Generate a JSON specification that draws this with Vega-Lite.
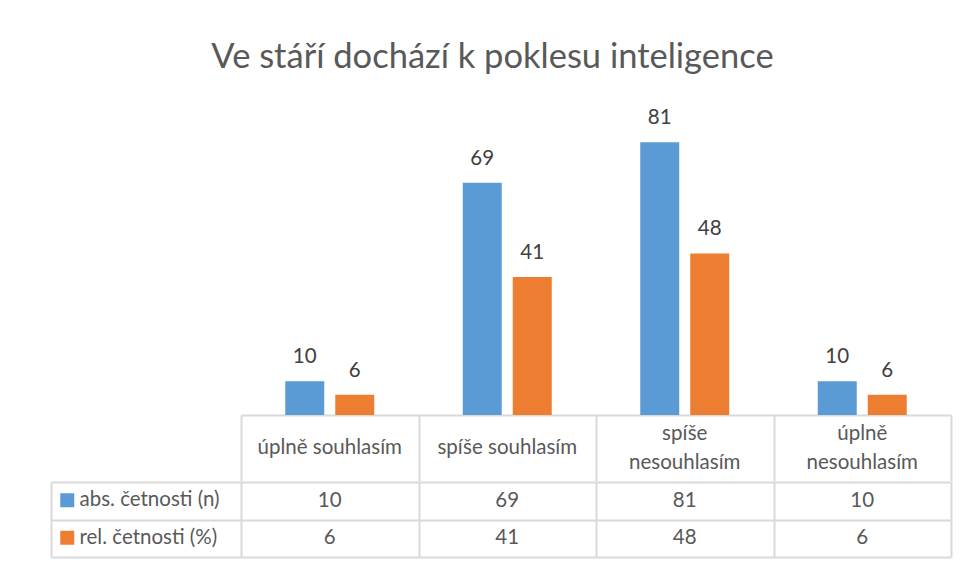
{
  "$schema": "https://vega.github.io/schema/vega-lite/v6.json",
  "padding": {"left": 50, "top": 39, "right": 14, "bottom": 6},
  "background": "white",
  "title": {"text": "Ve stáří dochází k poklesu inteligence", "fontSize": 34.5, "font": "Lato", "color": "#595959", "fontWeight": "normal", "anchor": "middle", "offset": 33, "dx": -8},
  "data": {"values": [
    {"cat": "úplně souhlasím", "series": "abs. četnosti (n)", "value": 10, "lines": 1},
    {"cat": "úplně souhlasím", "series": "rel. četnosti (%)", "value": 6, "lines": 1},
    {"cat": "spíše souhlasím", "series": "abs. četnosti (n)", "value": 69, "lines": 1},
    {"cat": "spíše souhlasím", "series": "rel. četnosti (%)", "value": 41, "lines": 1},
    {"cat": "spíše nesouhlasím", "series": "abs. četnosti (n)", "value": 81, "lines": 2},
    {"cat": "spíše nesouhlasím", "series": "rel. četnosti (%)", "value": 48, "lines": 2},
    {"cat": "úplně nesouhlasím", "series": "abs. četnosti (n)", "value": 10, "lines": 2},
    {"cat": "úplně nesouhlasím", "series": "rel. četnosti (%)", "value": 6, "lines": 2}
  ]},
  "spacing": 0,
  "vconcat": [
    {
      "width": 710,
      "height": 303,
      "layer": [
        {
          "mark": {"type": "bar"},
          "encoding": {
            "x": {"field": "cat", "type": "nominal", "sort": ["úplně souhlasím", "spíše souhlasím", "spíše nesouhlasím", "úplně nesouhlasím"],
                  "scale": {"padding": 0},
                  "axis": {"title": null, "domainColor": "#d9d9d9", "domainWidth": 2, "ticks": false, "labels": false}},
            "xOffset": {"field": "series", "type": "nominal", "sort": ["abs. četnosti (n)", "rel. četnosti (%)"], "scale": {"paddingInner": 0.22, "paddingOuter": 0.885}},
            "y": {"field": "value", "type": "quantitative", "scale": {"domain": [0, 90], "nice": false}, "axis": null},
            "color": {"field": "series", "type": "nominal", "sort": ["abs. četnosti (n)", "rel. četnosti (%)"],
                      "scale": {"domain": ["abs. četnosti (n)", "rel. četnosti (%)"], "range": ["#5B9BD5", "#ED7D31"]},
                      "legend": {"orient": "none", "legendX": -184, "legendY": 378, "title": null, "symbolType": "square", "symbolSize": 196, "symbolStrokeWidth": 0,
                                 "labelFontSize": 20.5, "labelColor": "#595959", "labelFont": "Lato", "rowPadding": 16.5, "labelOffset": 2}}
          }
        },
        {
          "mark": {"type": "text", "baseline": "alphabetic", "dy": -18, "fontSize": 20.5, "font": "Lato", "color": "#404040"},
          "encoding": {
            "x": {"field": "cat", "type": "nominal", "sort": ["úplně souhlasím", "spíše souhlasím", "spíše nesouhlasím", "úplně nesouhlasím"]},
            "xOffset": {"field": "series", "type": "nominal", "sort": ["abs. četnosti (n)", "rel. četnosti (%)"]},
            "y": {"field": "value", "type": "quantitative"},
            "text": {"field": "value", "type": "quantitative"}
          }
        }
      ]
    },
    {
      "width": 710,
      "height": 66,
      "transform": [{"filter": "datum.series == 'abs. četnosti (n)'"}],
      "encoding": {
        "x": {"field": "cat", "type": "nominal", "sort": ["úplně souhlasím", "spíše souhlasím", "spíše nesouhlasím", "úplně nesouhlasím"],
              "scale": {"padding": 0},
              "axis": {"title": null, "labels": false, "ticks": false, "domain": false, "grid": true, "tickBand": "extent", "gridColor": "#d9d9d9", "gridWidth": 2}},
        "text": {"field": "cat", "type": "nominal"}
      },
      "layer": [
        {
          "transform": [{"filter": "datum.lines == 1"}],
          "mark": {"type": "text", "fontSize": 20.5, "font": "Lato", "color": "#595959", "baseline": "middle"}
        },
        {
          "transform": [{"filter": "datum.lines == 2"}],
          "mark": {"type": "text", "fontSize": 20.5, "font": "Lato", "color": "#595959", "baseline": "middle", "lineBreak": " ", "lineHeight": 29, "dy": -14.5}
        }
      ]
    },
    {
      "width": 710,
      "height": 75,
      "mark": {"type": "text", "fontSize": 20.5, "font": "Lato", "color": "#595959"},
      "encoding": {
        "x": {"field": "cat", "type": "nominal", "sort": ["úplně souhlasím", "spíše souhlasím", "spíše nesouhlasím", "úplně nesouhlasím"],
              "scale": {"padding": 0},
              "axis": {"title": null, "labels": false, "ticks": false, "domain": false, "grid": true, "tickBand": "extent", "gridColor": "#d9d9d9", "gridWidth": 2}},
        "y": {"field": "series", "type": "nominal", "sort": ["abs. četnosti (n)", "rel. četnosti (%)"],
              "scale": {"padding": 0},
              "axis": {"title": null, "labels": false, "domain": true, "domainColor": "#d9d9d9", "domainWidth": 2, "offset": 190,
                       "ticks": true, "tickSize": -190, "tickBand": "extent", "tickColor": "#d9d9d9", "tickWidth": 2,
                       "grid": true, "gridColor": "#d9d9d9", "gridWidth": 2}},
        "text": {"field": "value", "type": "quantitative"}
      }
    }
  ],
  "resolve": {"scale": {"x": "independent", "y": "independent"}},
  "config": {"view": {"stroke": null}, "font": "Lato"}
}
